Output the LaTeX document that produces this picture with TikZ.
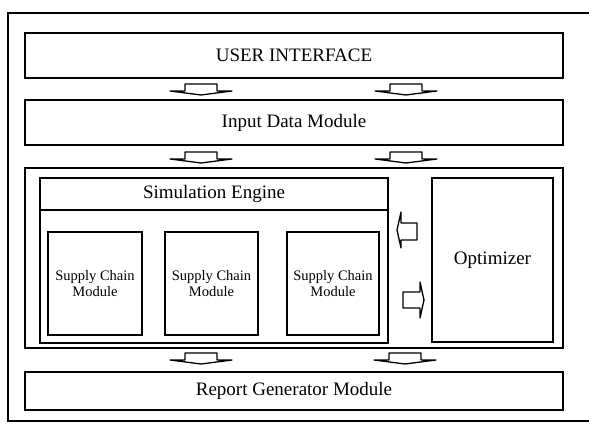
\documentclass[tikz,border=0pt]{standalone}
\usepackage{fontspec}
\setmainfont{Liberation Serif}
\begin{document}
\begin{tikzpicture}[x=1pt,y=-1pt,
  box/.style={draw, line width=1.6pt, inner sep=0pt, align=center,
    font=\fontsize{19}{22}\selectfont},
  smallbox/.style={draw, line width=1.4pt, inner sep=0pt, align=center,
    font=\fontsize{14.5}{15.5}\selectfont},
  blockarrow/.style={draw, fill=white, line width=1.3pt, line join=round},
  downarr/.pic={\path[blockarrow] (-31,7)--(-16,7)--(-16,0)--(16,0)--(16,7)--(31,7)--(0,11)--cycle;}
]
\useasboundingbox (0,0) rectangle (589,427);
\begin{scope}
\clip (0,0) rectangle (589,427);
\draw[line width=2.6pt] (8,13) rectangle (610,421);
\end{scope}

\node[box, minimum width=538, minimum height=45] (ui) at (294,55.5) {USER INTERFACE};
\node[box, minimum width=538, minimum height=45] (inp) at (294,122.5) {Input Data Module};
\node[box, minimum width=538, minimum height=180] (core) at (294,258) {};
\node[draw, line width=1.3pt, minimum width=348, minimum height=165] (engine) at (214,260.5) {};
\node[draw, line width=1.3pt, minimum width=348, minimum height=32, inner sep=0pt,
  font=\fontsize{19}{22}\selectfont] (engtitle) at (214,194) {Simulation Engine};
\node[smallbox, minimum width=94, minimum height=103] (scm1) at (95,283.5) {Supply Chain\\Module};
\node[smallbox, minimum width=93, minimum height=103] (scm2) at (211.5,283.5) {Supply Chain\\Module};
\node[smallbox, minimum width=92, minimum height=103] (scm3) at (333,283.5) {Supply Chain\\Module};
\node[box, line width=1.3pt, minimum width=121, minimum height=164] (opt) at (492.5,260) {Optimizer};
\node[box, minimum width=538, minimum height=38] (rep) at (294,391) {Report Generator Module};

\pic at (201,84) {downarr};
\pic at (406,84) {downarr};
\pic at (201,152) {downarr};
\pic at (406,152) {downarr};
\pic at (201,353) {downarr};
\pic at (405,353) {downarr};

\path[blockarrow] (417,223)--(401,223)--(401,212)--(397,230)--(401,248)--(401,240)--(417,240)--cycle;
\path[blockarrow] (403,292)--(420,292)--(420,282)--(424,300)--(420,318)--(420,308)--(403,308)--cycle;
\end{tikzpicture}
\end{document}
